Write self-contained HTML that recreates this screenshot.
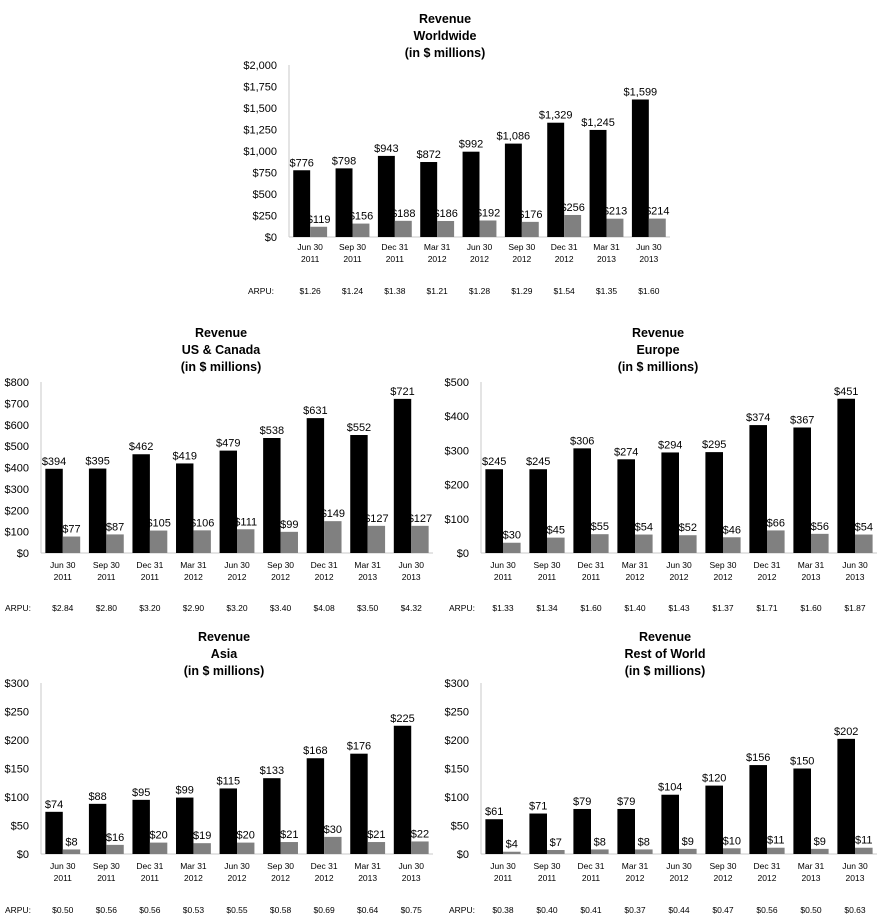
<!DOCTYPE html>
<html><head><meta charset="utf-8">
<style>
html,body{margin:0;padding:0;background:#fff;}
svg{display:block;font-family:"Liberation Sans",sans-serif;}
</style></head>
<body>
<svg id="chart" width="882" height="922" viewBox="0 0 882 922" xmlns="http://www.w3.org/2000/svg"></svg>
<script>
const categories = [["Jun 30","2011"],["Sep 30","2011"],["Dec 31","2011"],["Mar 31","2012"],["Jun 30","2012"],["Sep 30","2012"],["Dec 31","2012"],["Mar 31","2013"],["Jun 30","2013"]];

const wwRevenue = [776,798,943,872,992,1086,1329,1245,1599];
const wwSecond = [119,156,188,186,192,176,256,213,214];
const wwArpu = ["$1.26","$1.24","$1.38","$1.21","$1.28","$1.29","$1.54","$1.35","$1.60"];
const wwTicks = [0,250,500,750,1000,1250,1500,1750,2000];

const usRevenue = [394,395,462,419,479,538,631,552,721];
const usSecond = [77,87,105,106,111,99,149,127,127];
const usArpu = ["$2.84","$2.80","$3.20","$2.90","$3.20","$3.40","$4.08","$3.50","$4.32"];
const usTicks = [0,100,200,300,400,500,600,700,800];

const euRevenue = [245,245,306,274,294,295,374,367,451];
const euSecond = [30,45,55,54,52,46,66,56,54];
const euArpu = ["$1.33","$1.34","$1.60","$1.40","$1.43","$1.37","$1.71","$1.60","$1.87"];
const euTicks = [0,100,200,300,400,500];

const asRevenue = [74,88,95,99,115,133,168,176,225];
const asSecond = [8,16,20,19,20,21,30,21,22];
const asArpu = ["$0.50","$0.56","$0.56","$0.53","$0.55","$0.58","$0.69","$0.64","$0.75"];
const asTicks = [0,50,100,150,200,250,300];

const rwRevenue = [61,71,79,79,104,120,156,150,202];
const rwSecond = [4,7,8,8,9,10,11,9,11];
const rwArpu = ["$0.38","$0.40","$0.41","$0.37","$0.44","$0.47","$0.56","$0.50","$0.63"];
const rwTicks = [0,50,100,150,200,250,300];

const NS = "http://www.w3.org/2000/svg";
const svg = document.getElementById('chart');
function mk(tag, attrs, parent){
  const e = document.createElementNS(NS, tag);
  for (const k in attrs) e.setAttribute(k, attrs[k]);
  (parent||svg).appendChild(e);
  return e;
}
function fmt(v){ return "$" + v.toLocaleString("en-US"); }

function drawChart(id, titleLines, titleX, titleY, left, right, top, bottom, ticks, rev, sec, arpu, labY, arpuY, arpuLabelX){
  const g = mk('g', {});
  
  
  const maxV = ticks[ticks.length-1];
  const y = v => bottom - (v / maxV) * (bottom - top);
  const cw = (right - left) / categories.length;
  const x = i => left + cw * (i + 0.5);
  const bw = cw * 0.4;
  titleLines.forEach((t, k) => {
    const tt = mk('text', {x: titleX, y: titleY + k*17, 'text-anchor':'middle', 'font-size':12.5, 'font-weight':'bold', fill:'#000'}, g);
    tt.textContent = t;
    
    
  });
  ticks.forEach(t => {
    const tl = mk('text', {x: left - 12, y: y(t) + 4, 'text-anchor':'end', 'font-size':11, fill:'#000'}, g);
    tl.textContent = fmt(t);
    
    
  });
  const ax = mk('line', {x1:left, y1:top, x2:left, y2:bottom, stroke:'#c8c8c8', 'stroke-width':1}, g);
  
  
  const bx = mk('line', {x1:left, y1:bottom, x2:right, y2:bottom, stroke:'#c8c8c8', 'stroke-width':1}, g);
  
  
  categories.forEach((c, i) => {
    const cx = x(i);
    const b1 = mk('rect', {x: cx - bw, y: y(rev[i]), width: bw, height: bottom - y(rev[i]), fill:'#000'}, g);
    
    
    const b2 = mk('rect', {x: cx, y: y(sec[i]), width: bw, height: bottom - y(sec[i]), fill:'#808080'}, g);
    
    
    const l1 = mk('text', {x: cx - bw/2, y: y(rev[i]) - 4, 'text-anchor':'middle', 'font-size':11, fill:'#000'}, g);
    l1.textContent = fmt(rev[i]);
    
    
    const l2 = mk('text', {x: cx + bw/2, y: y(sec[i]) - 4, 'text-anchor':'middle', 'font-size':11, fill:'#000'}, g);
    l2.textContent = fmt(sec[i]);
    
    
    c.forEach((s, k) => {
      const cl = mk('text', {x: cx, y: labY + k*12, 'text-anchor':'middle', 'font-size':8.5, fill:'#000'}, g);
      cl.textContent = s;
      
      
    });
    const al = mk('text', {x: cx, y: arpuY, 'text-anchor':'middle', 'font-size':8.5, fill:'#000'}, g);
    al.textContent = arpu[i];
    
    
  });
  const ar = mk('text', {x: arpuLabelX, y: arpuY, 'font-size':8.5, fill:'#000'}, g);
  ar.textContent = "ARPU:";
  
  
}

drawChart('worldwide', ["Revenue","Worldwide","(in $ millions)"], 445, 23, 289, 670, 65, 237, wwTicks, wwRevenue, wwSecond, wwArpu, 250, 294, 248);
drawChart('us-canada', ["Revenue","US & Canada","(in $ millions)"], 221, 337, 41, 433, 382, 553, usTicks, usRevenue, usSecond, usArpu, 568, 611, 5);
drawChart('europe', ["Revenue","Europe","(in $ millions)"], 658, 337, 481, 877, 382, 553, euTicks, euRevenue, euSecond, euArpu, 568, 611, 449);
drawChart('asia', ["Revenue","Asia","(in $ millions)"], 224, 641, 41, 433, 683, 854, asTicks, asRevenue, asSecond, asArpu, 869, 913, 5);
drawChart('rest-of-world', ["Revenue","Rest of World","(in $ millions)"], 665, 641, 481, 877, 683, 854, rwTicks, rwRevenue, rwSecond, rwArpu, 869, 913, 449);
</script>
</body></html>
